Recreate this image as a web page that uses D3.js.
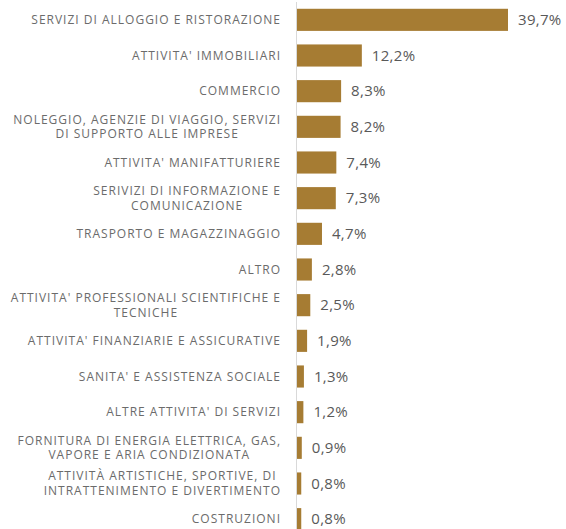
<!DOCTYPE html>
<html>
<head>
<meta charset="utf-8">
<script src="https://cdn.jsdelivr.net/npm/d3@7"></script>
<style>
  body { margin: 0; background: #fff; }
  text { font-family: "Open Sans", sans-serif; }
</style>
</head>
<body>
<div id="chart"></div>
<script>
const categories = [
  ["SERVIZI DI ALLOGGIO E RISTORAZIONE"],
  ["ATTIVITA' IMMOBILIARI"],
  ["COMMERCIO"],
  ["NOLEGGIO, AGENZIE DI VIAGGIO, SERVIZI", "DI SUPPORTO ALLE IMPRESE"],
  ["ATTIVITA' MANIFATTURIERE"],
  ["SERIVIZI DI INFORMAZIONE E", "COMUNICAZIONE"],
  ["TRASPORTO E MAGAZZINAGGIO"],
  ["ALTRO"],
  ["ATTIVITA' PROFESSIONALI SCIENTIFICHE E", "TECNICHE"],
  ["ATTIVITA' FINANZIARIE E ASSICURATIVE"],
  ["SANITA' E ASSISTENZA SOCIALE"],
  ["ALTRE ATTIVITA' DI SERVIZI"],
  ["FORNITURA DI ENERGIA ELETTRICA, GAS,", "VAPORE E ARIA CONDIZIONATA"],
  ["ATTIVITÀ ARTISTICHE, SPORTIVE, DI", "INTRATTENIMENTO E DIVERTIMENTO"],
  ["COSTRUZIONI"]
];
const values = [39.7, 12.2, 8.3, 8.2, 7.4, 7.3, 4.7, 2.8, 2.5, 1.9, 1.3, 1.2, 0.9, 0.8, 0.8];

const width = 566, height = 529;
const x0 = 297;
const fmt = v => d3.format(".1f")(v).replace(".", ",") + "%";

const svg = d3.select("#chart").append("svg")
  .attr("width", width).attr("height", height);

const x = d3.scaleLinear().domain([0, 39.7]).range([x0, 508]);
const y = d3.scaleBand().domain(d3.range(values.length))
  .range([2, 537]).paddingInner(0.38).paddingOuter(0.19);

svg.append("line")
  .attr("x1", x0 - 0.5).attr("x2", x0 - 0.5)
  .attr("y1", 2).attr("y2", height)
  .attr("stroke", "#d9d9d9").attr("stroke-width", 1);

svg.append("g").selectAll("rect")
  .data(values)
  .join("rect")
    .attr("x", x0)
    .attr("y", (d, i) => y(i))
    .attr("width", d => x(d) - x0)
    .attr("height", y.bandwidth())
    .attr("fill", "#a67c33");

svg.append("g").selectAll("text")
  .data(values)
  .join("text")
    .attr("x", d => x(d) + 10)
    .attr("y", (d, i) => y(i) + y.bandwidth() / 2)
    .attr("dy", "0.35em")
    .attr("fill", "#595959")
    .attr("font-size", 15)
    .attr("letter-spacing", 0.3)
    .text(d => fmt(d));

const labels = svg.append("g").selectAll("g")
  .data(categories)
  .join("g");

labels.each(function (lines, i) {
  const g = d3.select(this);
  const cy = y(i) + y.bandwidth() / 2;
  const lh = 14.5;
  const ts = lines.map((t, k) => g.append("text")
    .attr("y", cy + (k - (lines.length - 1) / 2) * lh)
    .attr("dy", "0.35em")
    .attr("font-size", 12)
    .attr("letter-spacing", 1)
    .attr("fill", "#6b6b6b")
    .attr("text-anchor", "middle")
    .text(t));
  const w = d3.max(ts, t => t.node().getComputedTextLength());
  ts.forEach(t => t.attr("x", 281 - w / 2));
});
</script>
</body>
</html>
